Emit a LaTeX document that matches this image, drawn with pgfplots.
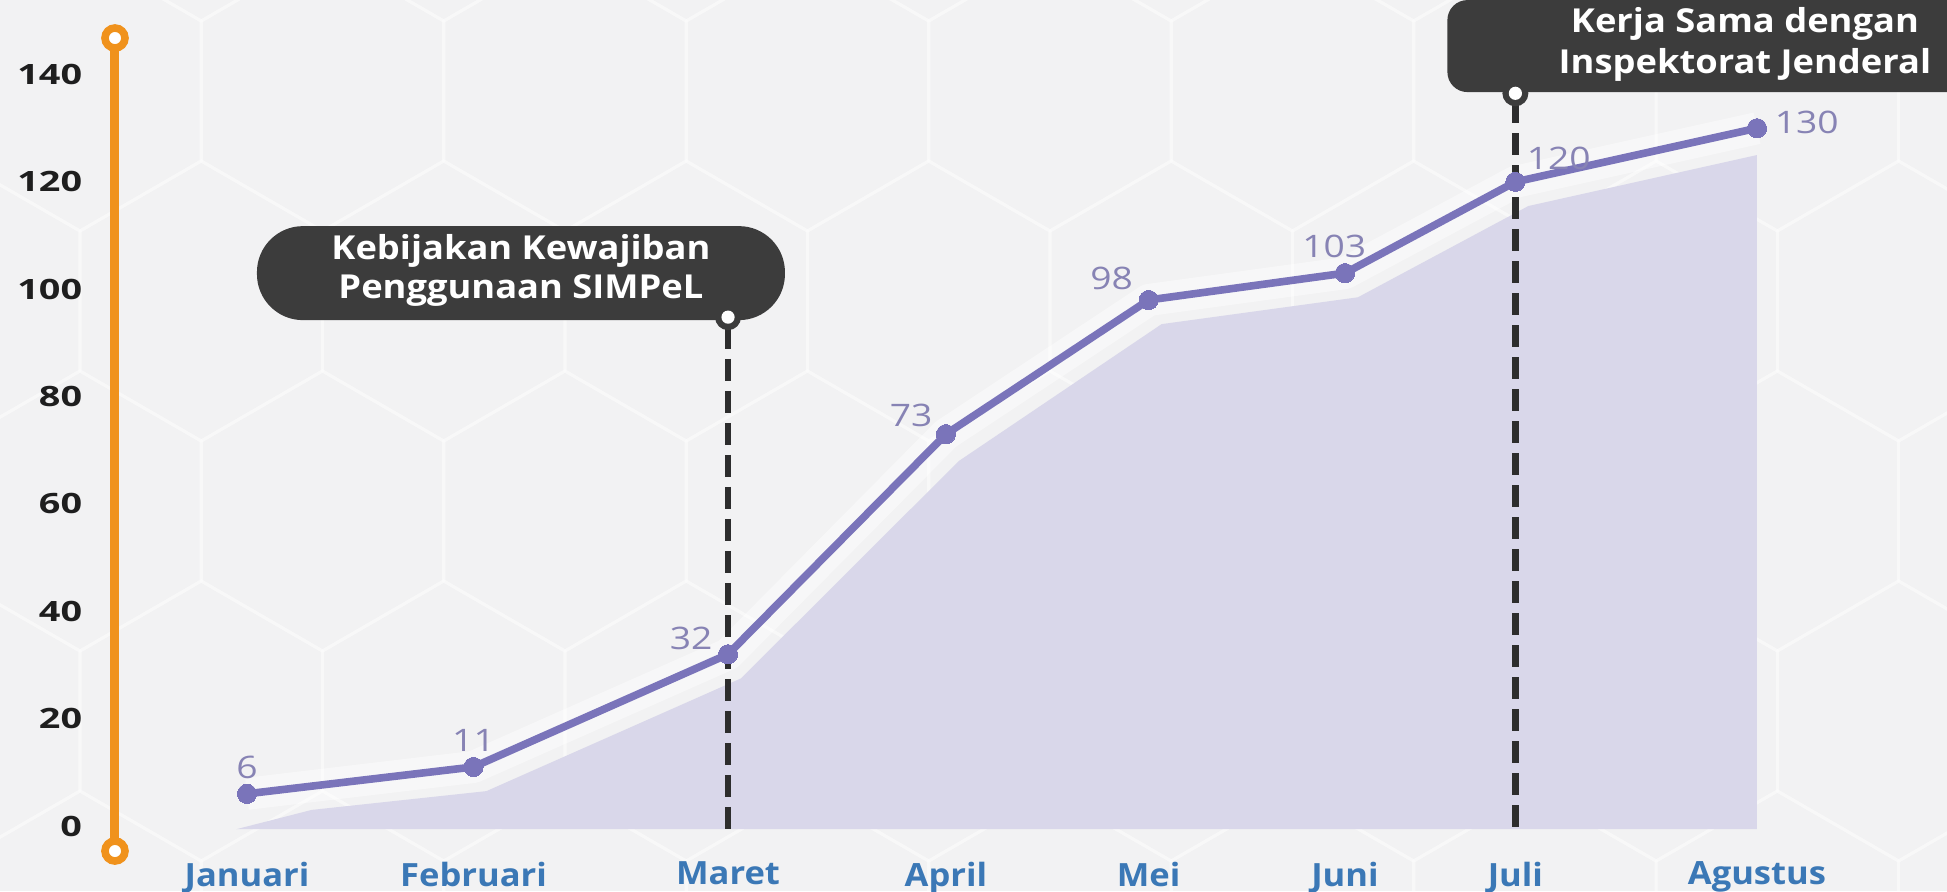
\documentclass[border=0pt]{standalone}
\usepackage{fontspec}
\setmainfont{Open Sans}
\newfontfamily\tickfont[FakeStretch=1.35]{Open Sans}
\newfontfamily\valfont[FakeStretch=1.2]{Open Sans}
\newfontfamily\labfont[FakeStretch=1.08]{Open Sans}
\newfontfamily\callfont[FakeStretch=1.1]{Open Sans}
\usepackage{pgfplots}
\pgfplotsset{compat=1.18}
\definecolor{bg}{RGB}{242,242,243}
\definecolor{lineP}{RGB}{122,116,186}
\definecolor{areaP}{RGB}{217,215,234}
\definecolor{lblP}{RGB}{135,131,180}
\definecolor{xlab}{RGB}{59,120,182}
\definecolor{ticklab}{RGB}{30,30,30}
\definecolor{orangeA}{RGB}{240,146,28}
\definecolor{callout}{RGB}{60,60,60}
\definecolor{dashc}{RGB}{45,45,45}

\pgfplotstableread{
x y
1.00 6
2.05 11
3.23 32
4.24 73
5.18 98
6.09 103
6.88 120
8.00 130
}\mainline

\pgfplotstableread{
x y
0.95 -0.6
1.30 3
2.11 6.5
3.29 27.5
4.30 68
5.24 93.5
6.15 98.5
6.94 115.5
8.00 125
8.00 -0.6
}\shadow

\begin{document}
\begin{tikzpicture}
\useasboundingbox (0,0) rectangle (973.5pt,445.5pt);
\fill[bg] (0,0) rectangle (973.5pt,445.5pt);
% faint hexagon texture
\begin{scope}
\clip (0,0) rectangle (973.5pt,445.5pt);
\foreach \i in {0,...,5}{
  \foreach \j in {-1,...,9}{
    \pgfmathsetmacro{\cx}{\j*121.24 + mod(\i,2)*60.62 + 40}
    \pgfmathsetmacro{\cy}{\i*105 - 20}
    \draw[white, line width=1.6pt, opacity=0.3, shift={(\cx pt,\cy pt)}]
      (30:70pt) -- (90:70pt) -- (150:70pt) -- (210:70pt) -- (270:70pt) -- (330:70pt) -- cycle;
  }
}
\end{scope}
\begin{axis}[
  at={(69.57pt,19.08pt)}, anchor=south west,
  scale only axis, width=895.2pt, height=416.0pt,
  xmin=0.5, xmax=8.8, ymin=-5, ymax=150,
  axis line style={draw=none},
  tick style={draw=none},
  major tick length=0pt,
  xtick={1,2.05,3.23,4.24,5.18,6.09,6.88,8},
  xticklabels={Januari,Februari,Maret,April,Mei,Juni,Juli,Agustus},
  ytick={0,20,40,60,80,100,120,140},
  yticklabels={0,20,40,60,80,100,120,140},
  xticklabel style={font=\labfont\fontsize{16}{19}\selectfont\bfseries, text=xlab, yshift=-1pt},
  yticklabel style={font=\tickfont\fontsize{14}{16}\selectfont\bfseries, text=ticklab, xshift=-25pt},
  clip=false,
]
% orange axis bar
\draw[orangeA, line width=4.5pt] (axis cs:0.388,-4.66) -- (axis cs:0.388,146.8);
\draw[orangeA, line width=3.8pt, fill=white] (axis cs:0.388,146.8) circle[radius=5pt];
\draw[orangeA, line width=3.8pt, fill=white] (axis cs:0.388,-4.66) circle[radius=5pt];

% white halo under line
\addplot[white, line width=16pt, opacity=0.45, line join=round, forget plot] table[x=x,y=y] {\mainline};
% shaded area
\addplot[fill=areaP, draw=none, forget plot] table[x=x,y=y] {\shadow} -- cycle;

% dashed markers
\draw[dashc, line width=3.2pt, dash pattern=on 11pt off 5pt] (axis cs:3.23,93) -- (axis cs:3.23,-0.6);
\draw[dashc, line width=3.2pt, dash pattern=on 11pt off 5pt] (axis cs:6.88,135) -- (axis cs:6.88,-0.6);

% main line
\addplot[lineP, line width=3.8pt, line join=round, mark=*, mark size=4.8pt,
  mark options={fill=lineP, draw=lineP, line width=0pt}] table[x=x,y=y] {\mainline};

% value labels
\begin{scope}[every node/.style={font=\valfont\fontsize{15.5}{18}\selectfont, text=lblP}]
\node[anchor=south] at (axis cs:1.00,7.5) {6};
\node[anchor=south] at (axis cs:2.05,12.5) {11};
\node[anchor=south east] at (axis cs:3.19,31.5) {32};
\node[anchor=south east] at (axis cs:4.21,73) {73};
\node[anchor=south east] at (axis cs:5.14,98.5) {98};
\node[anchor=south] at (axis cs:6.04,104.5) {103};
\node[anchor=south west] at (axis cs:6.90,121) {120};
\node[anchor=west] at (axis cs:8.05,131) {130};
\end{scope}

% callout 1
\node[fill=callout, rounded corners=23pt, minimum width=264pt, minimum height=47pt, inner sep=0pt]
  at (axis cs:2.27,103) {};
\node[text=white, align=center, font=\callfont\fontsize{16.5}{19.5}\selectfont\bfseries]
  at (axis cs:2.27,103.5) {Kebijakan Kewajiban\\Penggunaan SIMPeL};
\fill[callout] (axis cs:3.23,94.8) circle[radius=6.5pt];
\fill[white] (axis cs:3.23,94.8) circle[radius=3.3pt];

% callout 2
\node[fill=callout, rounded corners=10pt, minimum width=262pt, minimum height=46pt, inner sep=0pt, anchor=west]
  at (axis cs:6.563,145.3) {};
\node[text=white, align=center, font=\callfont\fontsize{16.5}{20.5}\selectfont\bfseries]
  at (axis cs:7.944,145.6) {Kerja Sama dengan\\Inspektorat Jenderal};
\fill[callout] (axis cs:6.88,136.5) circle[radius=6.5pt];
\fill[white] (axis cs:6.88,136.5) circle[radius=3.3pt];
\end{axis}
\end{tikzpicture}
\end{document}
